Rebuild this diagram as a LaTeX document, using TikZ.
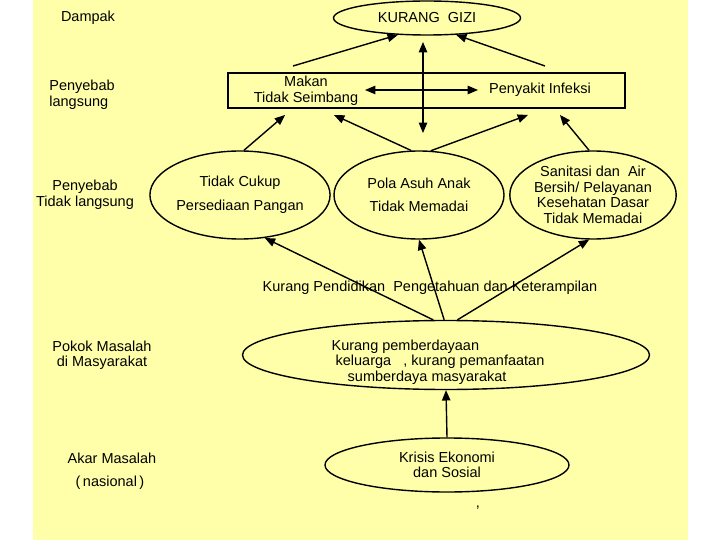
\documentclass[tikz,border=0pt]{standalone}
\usepackage{fontspec}
\setmainfont{Liberation Sans}
\usetikzlibrary{shapes.geometric, arrows, positioning}
\definecolor{bgyellow}{RGB}{255,255,170}

\begin{document}
\begin{tikzpicture}[
			x=1pt, y=-1pt,
			font=\fontsize{14.5}{15.5}\selectfont,
			causeblock/.style = {ellipse, draw, line width=1.4pt, align=center, inner sep=0pt},
			label/.style = {align=center},
			line/.style = {draw, line width=1.4pt, -triangle 45},
			twoway/.style = {draw, line width=1.4pt, triangle 45-triangle 45},
		]
		\useasboundingbox (0,0) rectangle (720,540);
		\fill [bgyellow] (33,0) rectangle (688,540);

		% Level labels
		\node [label] (dampak) at (88,18) {Dampak};
		\node [label, align=left] (langsung) at (82,95) {Penyebab\\langsung};
		\node [label] (tidaklangsung) at (85,195) {Penyebab\\Tidak langsung};
		\node [label] (pokok) at (102,355) {Pokok Masalah\\di Masyarakat};
		\node [label] (akar) at (112,458) {Akar Masalah};
		\node [label] (nasional) at (110,483) {(\,nasional\,)};

		% Impact
		\node [causeblock, minimum width=187, minimum height=34] (gizi) at (427,18) {KURANG\ \ GIZI};

		% Direct causes
		\draw [line width=1.4pt] (228,73) rectangle (625,108);
		\node [label] (makan) at (306,91) {Makan\\Tidak Seimbang};
		\node [label] (infeksi) at (540,90) {Penyakit Infeksi};
		\coordinate (hleft) at (365,90);
		\coordinate (hright) at (478,90);
		\coordinate (vtop) at (423,42);
		\coordinate (vbottom) at (423,133);

		% Indirect causes
		\node [causeblock, minimum width=170, minimum height=88] (pangan) at (240,195) {Tidak Cukup\\[8pt]Persediaan Pangan};
		\node [causeblock, minimum width=170, minimum height=88] (asuh) at (419,195) {Pola Asuh Anak\\[8pt]Tidak Memadai};
		\node [causeblock, minimum width=162, minimum height=88] (sanitasi) at (593,195) {Sanitasi dan\ \ Air\\Bersih/ Pelayanan\\Kesehatan Dasar\\Tidak Memadai};

		% Underlying problems
		\node [label] (pendidikan) at (430,288) {Kurang Pendidikan\ \ Pengetahuan dan Keterampilan};
		\node [causeblock, minimum width=407, minimum height=69] (berdaya) at (446,355) {};
		\node [label, align=left] (berdayatext) at (438,362) {Kurang pemberdayaan\\\ keluarga\ \ \ , kurang pemanfaatan\\\ \ \ \ sumberdaya masyarakat};
		\node [causeblock, minimum width=244, minimum height=54] (krisis) at (447,465) {Krisis Ekonomi\\dan Sosial};
		\node [label] (koma) at (478,508) {,};

		% Draw arrows
		\path [line] (293,66) -- (gizi.210);
		\path [line] (545,66) -- (gizi.-30);
		\path [twoway] (vtop) -- (vbottom);
		\path [twoway] (hleft) -- (hright);
		\path [line] (pangan.85) -- (285,115);
		\path [line] (asuh.100) -- (334,115);
		\path [line] (asuh.75) -- (528,115);
		\path [line] (sanitasi.95) -- (560,115);
		\path [line] (berdaya.110) -- (pangan.-60);
		\path [line] (berdaya.93) -- (asuh.south);
		\path [line] (berdaya.72) -- (sanitasi.-95);
		\path [line] (krisis.north) -- (berdaya.south);
	\end{tikzpicture}
\end{document}
